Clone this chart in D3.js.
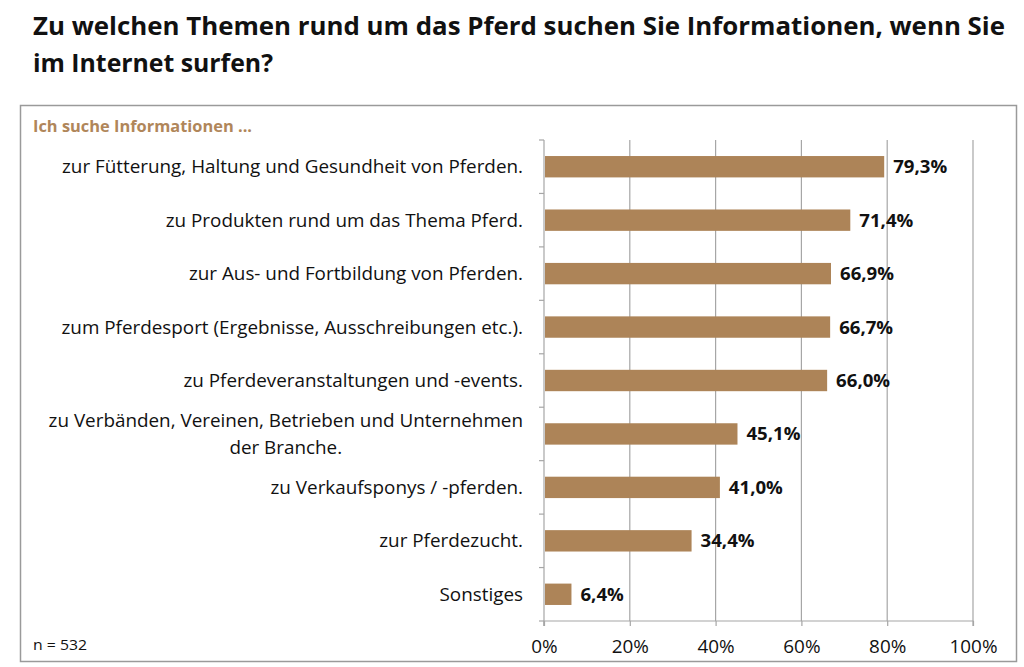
<!DOCTYPE html>
<html><head><meta charset="utf-8">
<script src="https://cdn.jsdelivr.net/npm/d3@7"></script>
<style>
html,body{margin:0;padding:0;background:#fff;}
svg{display:block;font-family:"Open Sans",sans-serif;}
</style></head>
<body>
<svg id="c" width="1024" height="667"></svg>
<script>
const titleLines = ["Zu welchen Themen rund um das Pferd suchen Sie Informationen, wenn Sie", "im Internet surfen?"];
const subtitle = "Ich suche Informationen ...";
const note = "n = 532";
const categories = [
  ["zur Fütterung, Haltung und Gesundheit von Pferden."],
  ["zu Produkten rund um das Thema Pferd."],
  ["zur Aus- und Fortbildung von Pferden."],
  ["zum Pferdesport (Ergebnisse, Ausschreibungen etc.)."],
  ["zu Pferdeveranstaltungen und -events."],
  ["zu Verbänden, Vereinen, Betrieben und Unternehmen", "der Branche."],
  ["zu Verkaufsponys / -pferden."],
  ["zur Pferdezucht."],
  ["Sonstiges"]
];
const values = [79.3, 71.4, 66.9, 66.7, 66.0, 45.1, 41.0, 34.4, 6.4];
const xTicks = [0, 20, 40, 60, 80, 100];

const svg = d3.select("#c");
const barColor = "#AD8458";
const gridColor = "#a6a6a6";

// frame
svg.append("rect").attr("x", 20.5).attr("y", 105.5).attr("width", 996).attr("height", 556)
  .attr("fill", "#fff").attr("stroke", "#9a9a9a").attr("stroke-width", 1.5);

function fit(sel, w) {
  sel.attr("textLength", w).attr("lengthAdjust", "spacingAndGlyphs");
}

// title
const tl = svg.append("g");
const t1 = tl.append("text").attr("x", 33).attr("y", 35).attr("font-size", 24.5).attr("font-weight", 700).attr("fill", "#111").text(titleLines[0]);
fit(t1, 972);
const t2 = tl.append("text").attr("x", 33).attr("y", 72).attr("font-size", 24.5).attr("font-weight", 700).attr("fill", "#111").text(titleLines[1]);
fit(t2, 240);

const st = svg.append("text").attr("x", 33).attr("y", 132).attr("font-size", 16.5).attr("font-weight", 700).attr("fill", "#B0865A").text(subtitle);
fit(st, 219);

const nt = svg.append("text").attr("x", 33).attr("y", 650).attr("font-size", 14.5).attr("fill", "#111").text(note);
fit(nt, 54);

const x = d3.scaleLinear().domain([0, 100]).range([544, 973]);
const y = d3.scaleBand().domain(d3.range(values.length)).range([140, 621]).paddingInner(0.6).paddingOuter(0.3);

// gridlines
svg.append("g").selectAll("line").data(xTicks.slice(1)).join("line")
  .attr("x1", d => x(d)).attr("x2", d => x(d)).attr("y1", 140).attr("y2", 621)
  .attr("stroke", gridColor).attr("stroke-width", 1.2);

// x axis
const xa = svg.append("g").attr("transform", "translate(0,621)")
  .call(d3.axisBottom(x).tickValues(xTicks).tickFormat(d => d + "%").tickSize(5).tickPadding(11));
xa.select(".domain").attr("stroke", gridColor).attr("stroke-width", 1.2).attr("d", "M" + x(0) + ",5V0H" + x(100) + "V5");
xa.selectAll(".tick line").attr("stroke", gridColor).attr("stroke-width", 1.2);
const xt = xa.selectAll(".tick text").attr("font-size", 19).attr("fill", "#111").attr("font-family", "Open Sans").attr("dy", "0.85em");
const xr = 48 / xt.filter(d => d === 100).node().getComputedTextLength();
xt.each(function() { const w = this.getComputedTextLength(); d3.select(this).attr("textLength", w * xr).attr("lengthAdjust", "spacingAndGlyphs"); });

// y axis
const yBounds = d3.range(values.length + 1).map(i => 140 + i * (481 / values.length));
const ya = svg.append("g");
ya.append("line").attr("x1", 544).attr("x2", 544).attr("y1", 140).attr("y2", 626).attr("stroke", gridColor).attr("stroke-width", 1.2);
ya.selectAll("line.t").data(yBounds).join("line").attr("class", "t")
  .attr("x1", 539).attr("x2", 544).attr("y1", d => d).attr("y2", d => d).attr("stroke", gridColor).attr("stroke-width", 1.2);

// bars
svg.append("g").selectAll("rect").data(values).join("rect")
  .attr("x", x(0) + 1).attr("y", (d, i) => y(i)).attr("width", d => x(d) - x(0) - 1).attr("height", y.bandwidth())
  .attr("fill", barColor);

// value labels
const vl = svg.append("g").selectAll("text").data(values).join("text")
  .attr("x", d => x(d) + 9).attr("y", (d, i) => y(i) + y.bandwidth() / 2).attr("dy", "0.36em")
  .attr("font-size", 18).attr("font-weight", 700).attr("fill", "#111")
  .text(d => d.toFixed(1).replace(".", ",") + "%");
const v0 = vl.node().getComputedTextLength();
const vr = 54 / v0;
vl.each(function() { const w = this.getComputedTextLength(); d3.select(this).attr("textLength", w * vr).attr("lengthAdjust", "spacingAndGlyphs"); });

// category labels
const lg = svg.append("g");
let ratio = null;
categories.forEach((lines, i) => {
  const cy = y(i) + y.bandwidth() / 2;
  const n = lines.length;
  const lh = 27;
  const g = lg.append("g");
  const texts = lines.map((ln, j) => g.append("text")
    .attr("y", cy + (j - (n - 1) / 2) * lh).attr("dy", "0.36em")
    .attr("font-size", 18).attr("fill", "#111").text(ln));
  if (ratio === null) ratio = 461 / texts[0].node().getComputedTextLength();
  const widths = texts.map(t => t.node().getComputedTextLength() * ratio);
  const maxW = d3.max(widths);
  texts.forEach((t, j) => {
    t.attr("textLength", widths[j]).attr("lengthAdjust", "spacingAndGlyphs");
    t.attr("x", 523 - maxW / 2 - widths[j] / 2);
  });
});
</script>
</body></html>
